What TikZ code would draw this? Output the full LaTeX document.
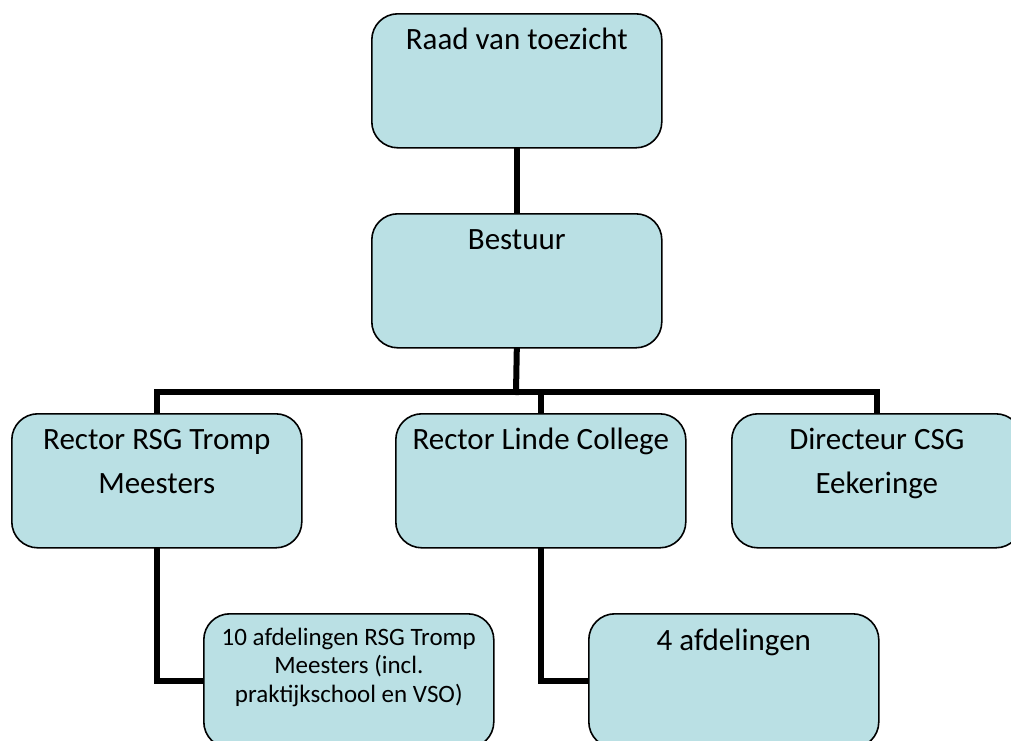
\documentclass[tikz,border=0pt]{standalone}
\usepackage{fontspec}
\setmainfont{Carlito}
\usetikzlibrary{backgrounds}
\begin{document}
\begin{tikzpicture}[x=1pt,y=-1pt,
  orgbox/.style={draw=black, line width=1.6pt, fill=boxfill, rounded corners=26pt,
    minimum width=290pt, minimum height=134pt, inner sep=0pt, anchor=north west},
  boxtext/.style={anchor=base, align=center, inner sep=0pt, font=\fontsize{31}{44}\selectfont},
  smalltext/.style={anchor=base, align=center, inner sep=0pt, font=\fontsize{25}{28.5}\selectfont},
  link/.style={line width=6pt, line cap=rect}]
\definecolor{boxfill}{RGB}{186,224,228}
\useasboundingbox (0,0) rectangle (1011,740);
\clip (0,0) rectangle (1011,740);
% boxes
\node[orgbox] (raad) at (371,13) {};
\node[orgbox] (bestuur) at (371,213) {};
\node[orgbox] (rsg) at (11,413) {};
\node[orgbox] (linde) at (395,413) {};
\node[orgbox] (csg) at (731,413) {};
\node[orgbox] (afd10) at (203,613) {};
\node[orgbox] (afd4) at (588,613) {};
% connectors
\coordinate (bar) at (516,392);
\begin{scope}[on background layer]
\draw[link] (raad.south) -- (bestuur.north);
\draw[link] (bestuur.south) -- (bar);
\draw[link] (rsg.north) |- (bar) -| (csg.north);
\draw[link] (bar -| linde.north) -- (linde.north);
\draw[link] (rsg.south) |- (afd10.west);
\draw[link] (linde.south) |- (afd4.west);
\end{scope}
% texts (base = baseline of the last line)
\node[boxtext] (raadt) at ([yshift=-36pt]raad.north) {Raad van toezicht};
\node[boxtext] (bestuurt) at ([yshift=-36pt]bestuur.north) {Bestuur};
\node[boxtext] (rsgt) at ([yshift=-80pt]rsg.north) {Rector RSG Tromp\\Meesters};
\node[boxtext] (lindet) at ([yshift=-36pt]linde.north) {Rector Linde College};
\node[boxtext] (csgt) at ([yshift=-80pt]csg.north) {Directeur CSG\\Eekeringe};
\node[smalltext] (afd10t) at ([yshift=-89pt]afd10.north) {10 afdelingen RSG Tromp\\Meesters (incl.\\praktijkschool en VSO)};
\node[boxtext] (afd4t) at ([yshift=-37pt]afd4.north) {4 afdelingen};
\end{tikzpicture}
\end{document}
